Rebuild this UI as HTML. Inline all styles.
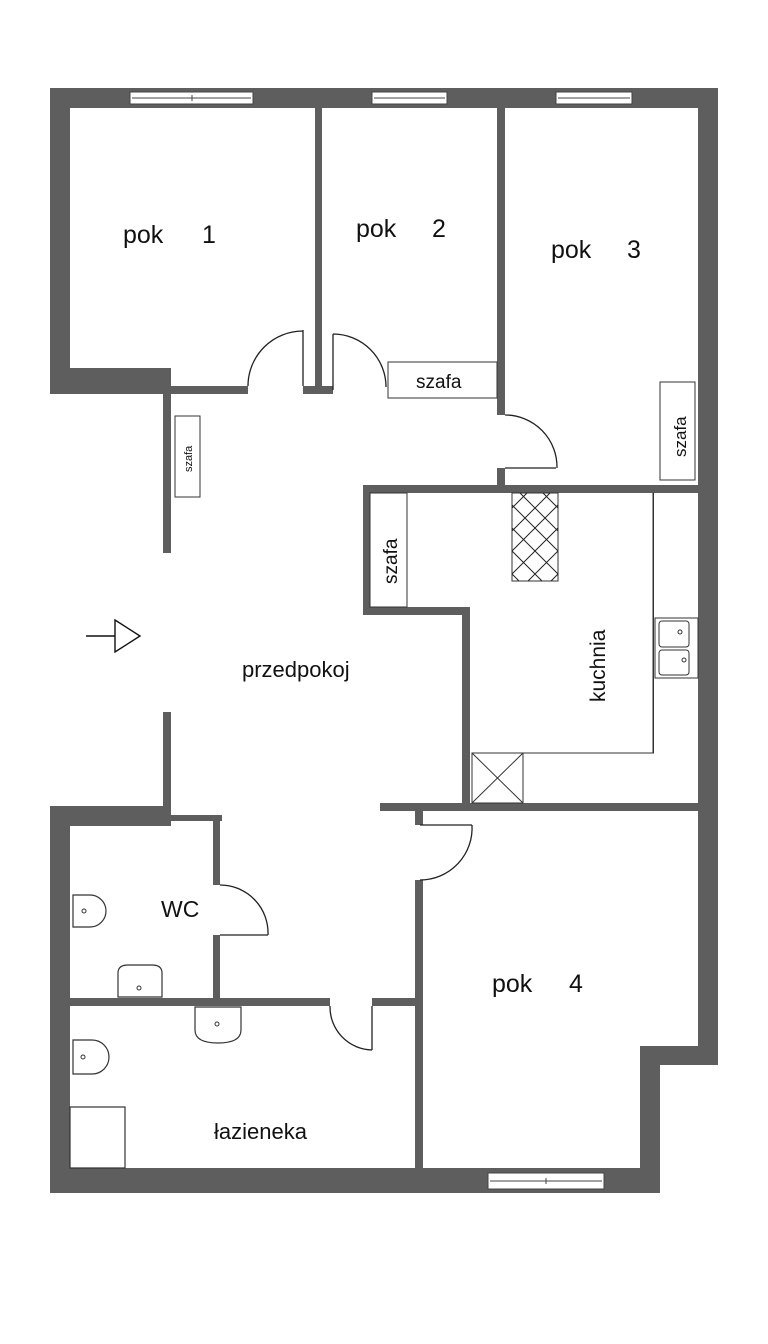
<!DOCTYPE html>
<html><head><meta charset="utf-8"><style>
html,body{margin:0;padding:0;background:#fff;}
svg{display:block;}
text{font-family:"Liberation Sans",sans-serif;fill:#111;}
</style></head><body>
<svg width="768" height="1344" viewBox="0 0 768 1344" xmlns="http://www.w3.org/2000/svg">
<rect width="768" height="1344" fill="#fff"/>
<g fill="#5e5e5e">
<rect x="50" y="88" width="668" height="20"/>
<rect x="698" y="88" width="20" height="977"/>
<rect x="640" y="1046" width="78" height="19"/>
<rect x="640" y="1046" width="20" height="147"/>
<rect x="50" y="1168" width="610" height="25"/>
<rect x="50" y="88" width="20" height="306"/>
<rect x="50" y="368" width="121" height="26"/>
<rect x="163" y="368" width="8" height="185"/>
<rect x="163" y="712" width="8" height="96"/>
<rect x="171" y="386" width="77" height="8"/>
<rect x="50" y="806" width="121" height="20"/>
<rect x="50" y="806" width="20" height="387"/>
<rect x="171" y="815" width="51" height="6"/>
<rect x="315" y="108" width="7" height="286"/>
<rect x="303" y="386" width="30" height="8"/>
<rect x="497" y="108" width="8" height="307"/>
<rect x="497" y="468" width="8" height="22"/>
<rect x="363" y="485" width="335" height="8"/>
<rect x="363" y="485" width="7" height="130"/>
<rect x="363" y="607" width="107" height="8"/>
<rect x="462" y="607" width="8" height="201"/>
<rect x="380" y="803" width="318" height="8"/>
<rect x="415" y="811" width="8" height="14"/>
<rect x="415" y="880" width="8" height="288"/>
<rect x="213" y="815" width="7" height="70"/>
<rect x="213" y="935" width="7" height="65"/>
<rect x="70" y="998" width="260" height="8"/>
<rect x="372" y="998" width="43" height="8"/>
</g>
<g fill="#fff" stroke="#444" stroke-width="1">
<rect x="130" y="92" width="123" height="12"/>
<rect x="372" y="92" width="75" height="12"/>
<rect x="556" y="92" width="76" height="12"/>
<rect x="488" y="1173" width="116" height="16"/>
</g>
<g stroke="#444" stroke-width="1">
<line x1="132" y1="98" x2="251" y2="98"/><line x1="192" y1="95" x2="192" y2="101"/>
<line x1="374" y1="98" x2="445" y2="98"/>
<line x1="558" y1="98" x2="630" y2="98"/>
<line x1="490" y1="1181" x2="602" y2="1181"/><line x1="546" y1="1178" x2="546" y2="1184"/>
</g>
<g fill="none" stroke="#222" stroke-width="1.3">
<path d="M303 330 L303 386 M248 386 A55 55 0 0 1 303 331"/>
<path d="M333 334 L333 390 M333 334 A53 53 0 0 1 386 387"/>
<path d="M505 468 L556 468 M505 415 A52 52 0 0 1 557 468"/>
<path d="M420 825 L472 825 M472 825 A52 52 0 0 1 420 880"/>
<path d="M220 935 L268 935 M220 885 A48 48 0 0 1 268 935"/>
<path d="M372 1006 L372 1050 M330 1006 A43 43 0 0 0 372 1050"/>
</g>
<g fill="#fff" stroke="#333" stroke-width="1">
<rect x="388" y="362" width="109" height="36"/>
<rect x="660" y="382" width="35" height="98"/>
<rect x="175" y="416" width="25" height="81"/>
<rect x="370" y="493" width="37" height="114"/>
<rect x="653" y="493" width="0.5" height="260"/>
<path d="M653 753 L523 753"/>
<rect x="472" y="753" width="51" height="50"/>
<line x1="472" y1="753" x2="523" y2="803"/><line x1="523" y1="753" x2="472" y2="803"/>
<rect x="512" y="493" width="46" height="88"/>
<rect x="655" y="618" width="43" height="60"/>
<rect x="659" y="621" width="30" height="26" rx="3"/>
<rect x="659" y="650" width="30" height="25" rx="3"/>
</g>
<g stroke="#222" stroke-width="1" fill="none">
<path d="M512 505 L558 551 M512 528 L558 574 M512 551 L542 581 M512 574 L519 581 M520 493 L558 531 M543 493 L558 508 M558 505 L512 551 M558 528 L512 574 M558 551 L528 581 M558 574 L551 581 M550 493 L512 531 M527 493 L512 508"/>
</g>
<g fill="#fff" stroke="#333" stroke-width="1.2">
<path d="M73 895 L90 895 A16 16 0 0 1 90 927 L73 927 Z"/>
<path d="M73 1040 L92 1040 A17 17 0 0 1 92 1074 L73 1074 Z"/>
<path d="M118 997 L118 973 Q118 965 128 965 L152 965 Q162 965 162 973 L162 997 Z"/>
<path d="M195 1007 L241 1007 L241 1030 Q241 1043 218 1043 Q195 1043 195 1030 Z"/>
<rect x="70" y="1107" width="55" height="61" fill="none"/>
</g>
<g fill="none" stroke="#333" stroke-width="1">
<circle cx="84" cy="911" r="2"/><circle cx="83" cy="1057" r="2"/>
<circle cx="139" cy="988" r="2"/><circle cx="217" cy="1024" r="2"/>
<circle cx="680" cy="632" r="2"/><circle cx="684" cy="660" r="2"/>
</g>
<g stroke="#111" stroke-width="1.4" fill="#fff">
<line x1="86" y1="636" x2="115" y2="636"/>
<path d="M115 620 L140 636 L115 652 Z"/>
</g>
<text x="123" y="243" font-size="25">pok</text><text x="202" y="243" font-size="25">1</text>
<text x="356" y="237" font-size="25">pok</text><text x="432" y="237" font-size="25">2</text>
<text x="551" y="258" font-size="25">pok</text><text x="627" y="258" font-size="25">3</text>
<text x="492" y="992" font-size="25">pok</text><text x="569" y="992" font-size="25">4</text>
<text x="242" y="677" font-size="22">przedpokoj</text>
<text x="161" y="917" font-size="23">WC</text>
<text x="214" y="1139" font-size="22">łazieneka</text>
<text x="416" y="388" font-size="19">szafa</text>
<text font-size="21" transform="translate(605,702) rotate(-90)">kuchnia</text>
<text font-size="19" transform="translate(397,584) rotate(-90)">szafa</text>
<text font-size="17" transform="translate(686,457) rotate(-90)">szafa</text>
<text font-size="11" transform="translate(192,472) rotate(-90)">szafa</text>
</svg>
</body></html>
